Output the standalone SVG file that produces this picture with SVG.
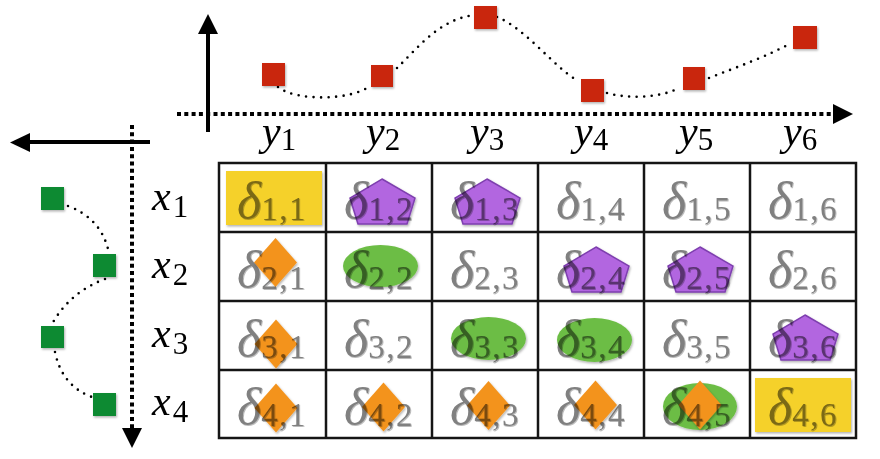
<svg xmlns="http://www.w3.org/2000/svg" xmlns:xlink="http://www.w3.org/1999/xlink" width="880" height="459" viewBox="0 0 880 459">
<defs>
  <filter id="sh" x="-20%" y="-20%" width="140%" height="140%">
    <feDropShadow dx="1" dy="1.5" stdDeviation="1" flood-color="#000" flood-opacity="0.3"/>
  </filter>
  <filter id="ts" x="-10%" y="-10%" width="130%" height="130%">
    <feDropShadow dx="0.8" dy="0.8" stdDeviation="0.4" flood-color="#000" flood-opacity="0.35"/>
  </filter>
  <polygon id="pent" points="0,0 33,19 25,45 -24,45 -32,19"/>
  <polygon id="diam" points="0,-24.5 21.5,0 0,24.5 -21.5,0"/>
</defs>
<style>
  .grid { fill: none; stroke: #151515; stroke-width: 2.5; }
  .yel { fill: #F5D12A; filter: url(#sh); }
  .pur { fill: #B266E0; stroke: #7E3FAF; stroke-width: 1.5; filter: url(#sh); }
  .ora { fill: #F3931F; filter: url(#sh); }
  .grn { fill: #6CBD45; filter: url(#sh); }
  .red { fill: #C9250A; filter: url(#sh); }
  .gsq { fill: #078A32; filter: url(#sh); }
  .d { font-family: "Liberation Serif", "DejaVu Serif", serif; fill: #808080; mix-blend-mode: multiply; filter: url(#ts); }
  .dg { font-style: italic; font-size: 52px; }
  .sb { font-style: normal; font-size: 33px; letter-spacing: 1.5px; }
  .lab { font-family: "Liberation Serif", "DejaVu Serif", serif; fill: #000; }
  .lv { font-style: italic; font-size: 42px; }
  .ls { font-style: normal; font-size: 31px; }
  .dots { fill: none; stroke: #000; stroke-width: 2.6; stroke-linecap: round; stroke-dasharray: 0 7.5; }
  .axd { fill: none; stroke: #000; stroke-width: 4; stroke-dasharray: 4 3.3; }
  .ax { fill: none; stroke: #000; stroke-width: 4; }
</style>

<!-- connectors: axes and dotted curves -->
<g id="connectors">
  <line class="axd" x1="177" y1="114" x2="834" y2="114"/>
  <polygon points="833,104 853,114 833,124" fill="#000"/>
  <line class="ax" x1="208" y1="132" x2="208" y2="32"/>
  <polygon points="198,34 208,14 218,34" fill="#000"/>
  <line class="ax" x1="150" y1="142" x2="28" y2="142"/>
  <polygon points="30,133 10,142.5 30,152" fill="#000"/>
  <line class="axd" x1="132" y1="125" x2="132" y2="429"/>
  <polygon points="122,428 132,448 142,428" fill="#000"/>
  <path class="dots" d="M278,87 C295,101 350,101 370,86"/>
  <path class="dots" d="M397,68 C418,48 440,18 476,15"/>
  <path class="dots" d="M497,17 C525,28 555,68 578,81"/>
  <path class="dots" d="M607,93 C628,99 660,98 679,88"/>
  <path class="dots" d="M709,78 C740,66 770,55 791,43"/>
  <path class="dots" d="M68,206 Q100,218 108,249"/>
  <path class="dots" d="M105,279 Q70,292 52,324"/>
  <path class="dots" d="M55,352 Q62,386 92,397"/>
</g>

<!-- data points -->
<g id="y-points">
  <rect class="red" x="262" y="63" width="23" height="23"/>
  <rect class="red" x="371" y="65" width="22" height="22"/>
  <rect class="red" x="474" y="6" width="23" height="23"/>
  <rect class="red" x="581" y="79" width="23" height="23"/>
  <rect class="red" x="683" y="67" width="22" height="23"/>
  <rect class="red" x="793" y="26" width="24" height="23"/>
</g>
<g id="x-points">
  <rect class="gsq" x="41" y="187" width="23" height="23"/>
  <rect class="gsq" x="93" y="254" width="23" height="23"/>
  <rect class="gsq" x="41" y="326" width="23" height="22"/>
  <rect class="gsq" x="93" y="393" width="23" height="23"/>
</g>

<!-- axis labels -->
<g id="y-labels" class="lab">
  <text x="262" y="145"><tspan class="lv">y</tspan><tspan class="ls" dy="5">1</tspan></text>
  <text x="366" y="145"><tspan class="lv">y</tspan><tspan class="ls" dy="5">2</tspan></text>
  <text x="470" y="145"><tspan class="lv">y</tspan><tspan class="ls" dy="5">3</tspan></text>
  <text x="574" y="145"><tspan class="lv">y</tspan><tspan class="ls" dy="5">4</tspan></text>
  <text x="679" y="145"><tspan class="lv">y</tspan><tspan class="ls" dy="5">5</tspan></text>
  <text x="783" y="145"><tspan class="lv">y</tspan><tspan class="ls" dy="5">6</tspan></text>
</g>
<g id="x-labels" class="lab">
  <text x="152" y="210"><tspan class="lv">x</tspan><tspan class="ls" dy="7" dx="2">1</tspan></text>
  <text x="152" y="278"><tspan class="lv">x</tspan><tspan class="ls" dy="7" dx="2">2</tspan></text>
  <text x="152" y="347"><tspan class="lv">x</tspan><tspan class="ls" dy="7" dx="2">3</tspan></text>
  <text x="152" y="415"><tspan class="lv">x</tspan><tspan class="ls" dy="7" dx="2">4</tspan></text>
</g>

<!-- grid -->
<g id="grid">
  <rect class="grid" x="219" y="163" width="637" height="275"/>
  <line class="grid" x1="326" y1="163" x2="326" y2="438"/>
  <line class="grid" x1="432" y1="163" x2="432" y2="438"/>
  <line class="grid" x1="538" y1="163" x2="538" y2="438"/>
  <line class="grid" x1="644" y1="163" x2="644" y2="438"/>
  <line class="grid" x1="750" y1="163" x2="750" y2="438"/>
  <line class="grid" x1="219" y1="232" x2="856" y2="232"/>
  <line class="grid" x1="219" y1="301" x2="856" y2="301"/>
  <line class="grid" x1="219" y1="370" x2="856" y2="370"/>
</g>

<!-- row 1 -->
<g id="cell-1-1"><rect class="yel" x="226" y="171" width="96" height="54"/><text class="d" x="237" y="218"><tspan class="dg">δ</tspan><tspan class="sb" dy="2">1,1</tspan></text></g>
<g id="cell-1-2"><use href="#pent" class="pur" x="382" y="179"/><text class="d" x="344" y="218"><tspan class="dg">δ</tspan><tspan class="sb" dy="2">1,2</tspan></text></g>
<g id="cell-1-3"><use href="#pent" class="pur" x="487" y="179"/><text class="d" x="450" y="218"><tspan class="dg">δ</tspan><tspan class="sb" dy="2">1,3</tspan></text></g>
<g id="cell-1-4"><text class="d" x="556" y="218"><tspan class="dg">δ</tspan><tspan class="sb" dy="2">1,4</tspan></text></g>
<g id="cell-1-5"><text class="d" x="662" y="218"><tspan class="dg">δ</tspan><tspan class="sb" dy="2">1,5</tspan></text></g>
<g id="cell-1-6"><text class="d" x="768" y="218"><tspan class="dg">δ</tspan><tspan class="sb" dy="2">1,6</tspan></text></g>

<!-- row 2 -->
<g id="cell-2-1"><use href="#diam" class="ora" x="275.5" y="262.5"/><text class="d" x="237" y="287"><tspan class="dg">δ</tspan><tspan class="sb" dy="2">2,1</tspan></text></g>
<g id="cell-2-2"><ellipse class="grn" cx="380.5" cy="266" rx="37.5" ry="21"/><text class="d" x="344" y="287"><tspan class="dg">δ</tspan><tspan class="sb" dy="2">2,2</tspan></text></g>
<g id="cell-2-3"><text class="d" x="450" y="287"><tspan class="dg">δ</tspan><tspan class="sb" dy="2">2,3</tspan></text></g>
<g id="cell-2-4"><use href="#pent" class="pur" x="596" y="247"/><text class="d" x="556" y="287"><tspan class="dg">δ</tspan><tspan class="sb" dy="2">2,4</tspan></text></g>
<g id="cell-2-5"><use href="#pent" class="pur" x="700" y="247"/><text class="d" x="662" y="287"><tspan class="dg">δ</tspan><tspan class="sb" dy="2">2,5</tspan></text></g>
<g id="cell-2-6"><text class="d" x="768" y="287"><tspan class="dg">δ</tspan><tspan class="sb" dy="2">2,6</tspan></text></g>

<!-- row 3 -->
<g id="cell-3-1"><use href="#diam" class="ora" x="276" y="344"/><text class="d" x="237" y="356"><tspan class="dg">δ</tspan><tspan class="sb" dy="2">3,1</tspan></text></g>
<g id="cell-3-2"><text class="d" x="344" y="356"><tspan class="dg">δ</tspan><tspan class="sb" dy="2">3,2</tspan></text></g>
<g id="cell-3-3"><ellipse class="grn" cx="488.5" cy="338.5" rx="37.5" ry="21.5"/><text class="d" x="450" y="356"><tspan class="dg">δ</tspan><tspan class="sb" dy="2">3,3</tspan></text></g>
<g id="cell-3-4"><ellipse class="grn" cx="594.5" cy="340" rx="37.5" ry="22"/><text class="d" x="556" y="356"><tspan class="dg">δ</tspan><tspan class="sb" dy="2">3,4</tspan></text></g>
<g id="cell-3-5"><text class="d" x="662" y="356"><tspan class="dg">δ</tspan><tspan class="sb" dy="2">3,5</tspan></text></g>
<g id="cell-3-6"><use href="#pent" class="pur" x="805" y="315"/><text class="d" x="768" y="356"><tspan class="dg">δ</tspan><tspan class="sb" dy="2">3,6</tspan></text></g>

<!-- row 4 -->
<g id="cell-4-1"><use href="#diam" class="ora" x="276" y="408"/><text class="d" x="237" y="424"><tspan class="dg">δ</tspan><tspan class="sb" dy="2">4,1</tspan></text></g>
<g id="cell-4-2"><use href="#diam" class="ora" x="383.5" y="407"/><text class="d" x="344" y="424"><tspan class="dg">δ</tspan><tspan class="sb" dy="2">4,2</tspan></text></g>
<g id="cell-4-3"><use href="#diam" class="ora" x="488.5" y="405.5"/><text class="d" x="450" y="424"><tspan class="dg">δ</tspan><tspan class="sb" dy="2">4,3</tspan></text></g>
<g id="cell-4-4"><use href="#diam" class="ora" x="595.5" y="405"/><text class="d" x="556" y="424"><tspan class="dg">δ</tspan><tspan class="sb" dy="2">4,4</tspan></text></g>
<g id="cell-4-5"><ellipse class="grn" cx="700" cy="406.5" rx="37" ry="23.5"/><use href="#diam" class="ora" x="700" y="405"/><text class="d" x="662" y="424"><tspan class="dg">δ</tspan><tspan class="sb" dy="2">4,5</tspan></text></g>
<g id="cell-4-6"><rect class="yel" x="755" y="378" width="96" height="54"/><text class="d" x="768" y="424"><tspan class="dg">δ</tspan><tspan class="sb" dy="2">4,6</tspan></text></g>
</svg>
